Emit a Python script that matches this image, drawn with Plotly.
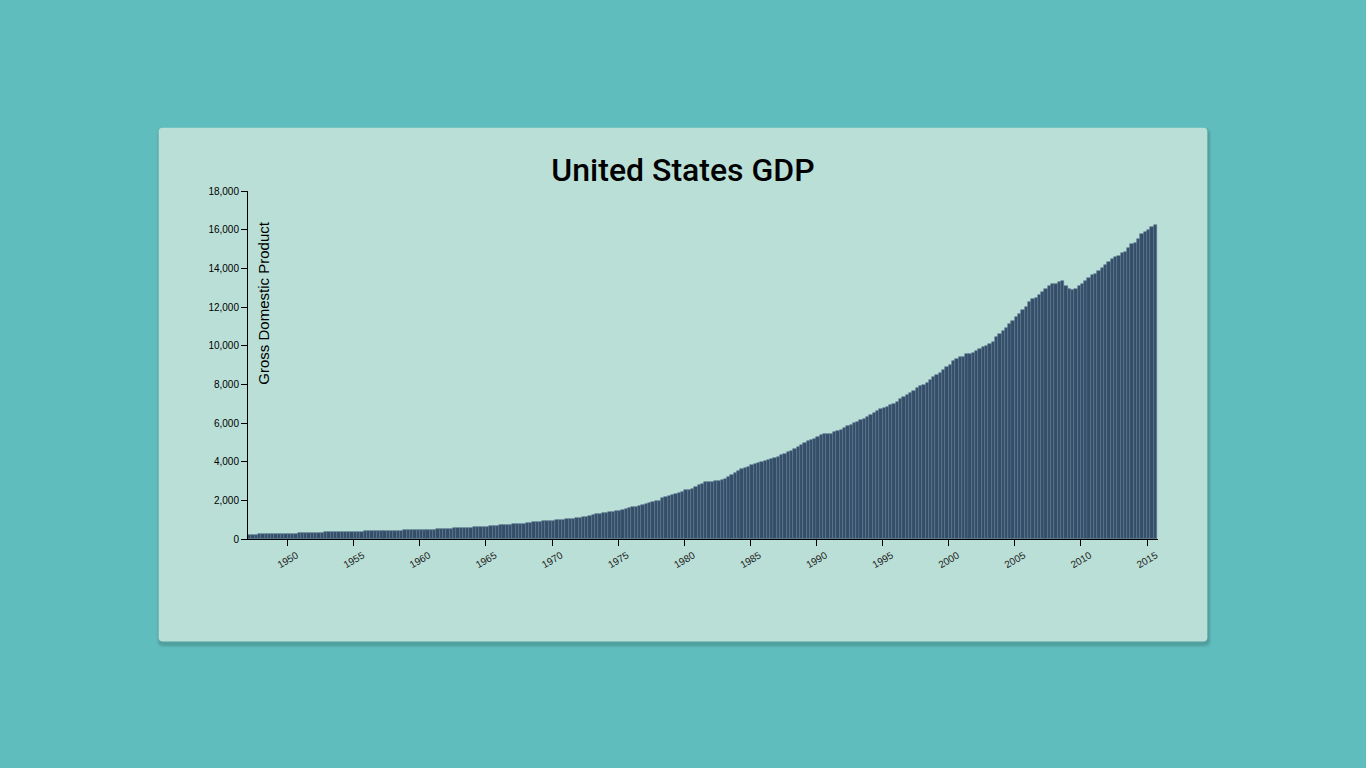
import plotly.graph_objects as go
import pandas as pd

# Quarterly GDP (billions), 1947 Q1 .. 2015 Q3
gdp = [
    218, 221, 225, 234,        # 1947
    239, 245, 251, 252,        # 1948
    247, 244, 245, 243,        # 1949
    253, 261, 277, 288,        # 1950
    302, 309, 316, 320,        # 1951
    323, 325, 331, 342,        # 1952
    349, 351, 352, 347,        # 1953
    347, 347, 352, 359,        # 1954
    372, 379, 387, 393,        # 1955
    396, 401, 406, 414,        # 1956
    423, 425, 431, 427,        # 1957
    421, 425, 437, 449,        # 1958
    459, 471, 472, 475,        # 1959
    488, 487, 490, 486,        # 1960
    490, 501, 510, 522,        # 1961
    534, 541, 547, 551,        # 1962
    559, 567, 579, 588,        # 1963
    603, 611, 622, 627,        # 1964
    646, 658, 674, 694,        # 1965
    716, 725, 737, 750,        # 1966
    760, 764, 778, 793,        # 1967
    818, 841, 855, 871,        # 1968
    894, 908, 927, 935,        # 1969
    946, 961, 977, 980,        # 1970
    1022, 1041, 1060, 1072,    # 1971
    1108, 1141, 1162, 1196,    # 1972
    1240, 1273, 1290, 1328,    # 1973
    1342, 1378, 1404, 1439,    # 1974
    1454, 1487, 1539, 1586,    # 1975
    1638, 1667, 1698, 1741,    # 1976
    1789, 1850, 1906, 1948,    # 1977
    1983, 2098, 2154, 2229,    # 1978
    2273, 2331, 2398, 2452,    # 1979
    2511, 2514, 2568, 2688,    # 1980
    2812, 2844, 2929, 2949,    # 1981
    2940, 2991, 3024, 3060,    # 1982
    3125, 3218, 3316, 3409,    # 1983
    3514, 3605, 3670, 3725,    # 1984
    3805, 3863, 3946, 3999,    # 1985
    4056, 4091, 4148, 4193,    # 1986
    4253, 4330, 4401, 4510,    # 1987
    4571, 4677, 4759, 4861,    # 1988
    4964, 5054, 5129, 5176,    # 1989
    5290, 5365, 5414, 5409,    # 1990
    5437, 5517, 5584, 5639,    # 1991
    5730, 5830, 5915, 6014,    # 1992
    6060, 6133, 6200, 6315,    # 1993
    6408, 6528, 6602, 6714,    # 1994
    6776, 6829, 6920, 7004,    # 1995
    7088, 7239, 7327, 7442,    # 1996
    7545, 7680, 7805, 7892,    # 1997
    7983, 8077, 8214, 8374,    # 1998
    8483, 8582, 8722, 8914,    # 1999
    9008, 9230, 9301, 9404,    # 2000
    9436, 9553, 9554, 9610,    # 2001
    9729, 9819, 9911, 9971,    # 2002
    10085, 10211, 10439, 10611,  # 2003
    10766, 10939, 11106, 11281,  # 2004
    11507, 11651, 11858, 12017,  # 2005
    12257, 12392, 12490, 12632,  # 2006
    12781, 12951, 13084, 13187,  # 2007
    13172, 13302, 13329, 13066,  # 2008
    12917, 12878, 12917, 13081,  # 2009
    13184, 13370, 13522, 13677,  # 2010
    13684, 13884, 13997, 14175,  # 2011
    14345, 14477, 14573, 14635,  # 2012
    14795, 14854, 15041, 15266,  # 2013
    15289, 15522, 15777, 15888,  # 2014
    15970, 16163, 16222,         # 2015
]
quarters = pd.date_range("1947-01-01", periods=len(gdp), freq="QS").strftime("%Y-%m-%d").tolist()

x_tick_years = [1950, 1955, 1960, 1965, 1970, 1975, 1980, 1985, 1990, 1995, 2000, 2005, 2010, 2015]
y_ticks = [0, 2000, 4000, 6000, 8000, 10000, 12000, 14000, 16000, 18000]

W, H = 1366, 768
PL, PR, PT, PB = 248.3, 1157.7, 190.5, 539.3
pw, ph = PR - PL, PB - PT

def px(xp):
    return (xp - PL) / pw

def py(yp):
    return (PB - yp) / ph

BG = "#60bdbd"
CARD = "#badfd7"
BAR = "#364d68"
BAR_EDGE = "#5b7b91"

day_ms = 86400000
fig = go.Figure()
fig.add_trace(go.Bar(
    x=quarters, y=gdp,
    width=[92.5 * day_ms] * len(gdp),
    offset=0,
    marker=dict(color=BAR, line=dict(width=0.6, color=BAR_EDGE)),
    hovertemplate="%{x|%Y Q%q}<br>$%{y:,} Billion<extra></extra>",
))

# card with rounded corners + soft shadow
def rounded(x0, y0, x1, y1, r):
    rx, ry = r / pw, r / ph
    X0, X1 = px(x0), px(x1)
    Y0, Y1 = py(y1), py(y0)  # bottom, top in paper
    return (f"M{X0+rx},{Y0} L{X1-rx},{Y0} Q{X1},{Y0} {X1},{Y0+ry} "
            f"L{X1},{Y1-ry} Q{X1},{Y1} {X1-rx},{Y1} L{X0+rx},{Y1} "
            f"Q{X0},{Y1} {X0},{Y1-ry} L{X0},{Y0+ry} Q{X0},{Y0} {X0+rx},{Y0} Z")

shapes = []
for i, a in enumerate([0.04, 0.05, 0.06]):
    o = 3 - i
    shapes.append(dict(type="path", xref="paper", yref="paper", layer="below",
                       path=rounded(159 - o + 1, 127 - o + 3, 1207 + o + 1, 642 + o + 3, 6),
                       fillcolor=f"rgba(0,0,0,{a})", line=dict(width=0)))
shapes.append(dict(type="path", xref="paper", yref="paper", layer="below",
                   path=rounded(159, 127, 1207, 642, 4),
                   fillcolor=CARD, line=dict(width=0)))

fig.update_layout(
    width=W, height=H,
    paper_bgcolor=BG, plot_bgcolor="rgba(0,0,0,0)",
    margin=dict(l=PL, r=W - PR, t=PT, b=H - PB, pad=0),
    showlegend=False,
    bargap=0,
    shapes=shapes,
    title=dict(text="United States GDP", x=683 / W, xref="container", xanchor="center",
               y=1 - 170 / H, yref="container", yanchor="middle",
               font=dict(family="Roboto", size=32, weight=500, color="#000")),
    xaxis=dict(
        type="date",
        range=["1947-01-01", "2015-11-01"],
        tickvals=[f"{y}-01-01" for y in x_tick_years],
        ticktext=[str(y) for y in x_tick_years],
        tickangle=-30,
        ticklabelshift=9,
        ticks="outside", ticklen=6, tickcolor="#000", tickwidth=1,
        showline=True, linecolor="#000", linewidth=1,
        showgrid=False, zeroline=False,
        tickfont=dict(family="Liberation Sans, Arial", size=10, color="#222"),
        fixedrange=True,
    ),
    yaxis=dict(
        range=[0, 18000],
        tickvals=y_ticks,
        ticktext=[f"{v:,}" for v in y_ticks],
        ticks="outside", ticklen=6, tickcolor="#000", tickwidth=1,
        showline=True, linecolor="#000", linewidth=1,
        showgrid=False, zeroline=False,
        tickfont=dict(family="Liberation Sans, Arial", size=10, color="#000"),
        fixedrange=True,
    ),
    annotations=[dict(
        text="Gross Domestic Product", textangle=-90,
        xref="paper", yref="paper", x=px(264), y=py(219),
        xanchor="center", yanchor="top", showarrow=False,
        font=dict(family="Liberation Sans, Arial", size=15, color="#000"),
    )],
)

fig.write_html("out.html")
